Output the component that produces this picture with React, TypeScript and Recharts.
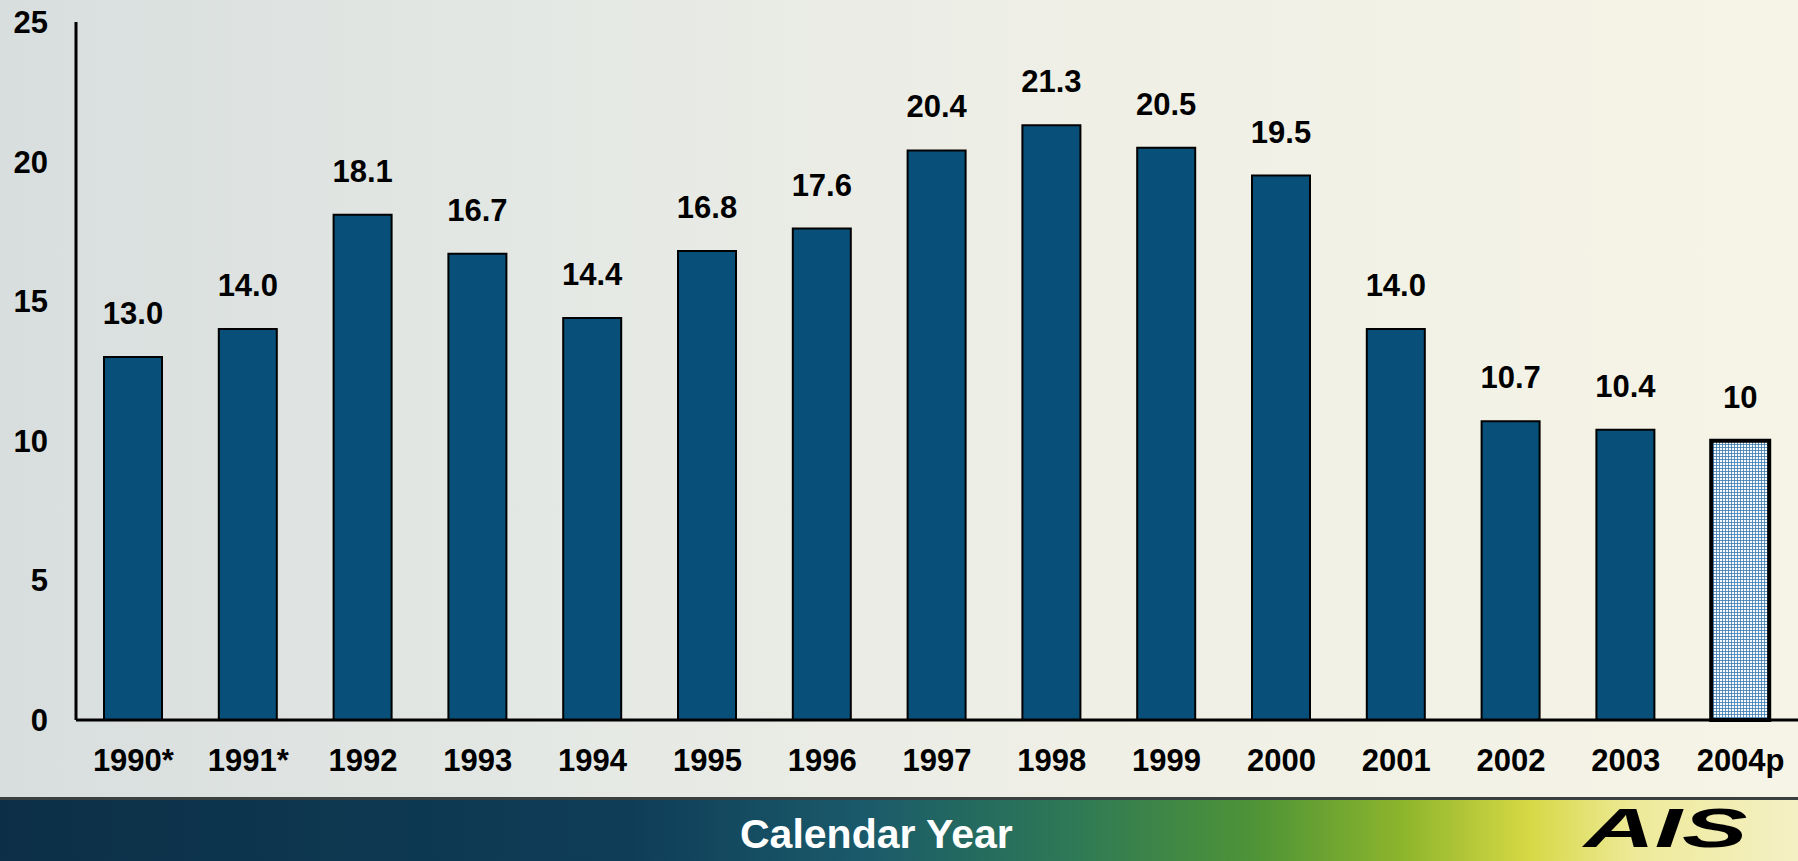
import React from 'react';
import { BarChart, Bar, XAxis, YAxis, Cell, LabelList } from 'recharts';

const YEARS = ['1990*', '1991*', '1992', '1993', '1994', '1995', '1996', '1997', '1998', '1999', '2000', '2001', '2002', '2003', '2004p'];
const VALUES = [13.0, 14.0, 18.1, 16.7, 14.4, 16.8, 17.6, 20.4, 21.3, 20.5, 19.5, 14.0, 10.7, 10.4, 10];
const VALUE_LABELS = ['13.0', '14.0', '18.1', '16.7', '14.4', '16.8', '17.6', '20.4', '21.3', '20.5', '19.5', '14.0', '10.7', '10.4', '10'];
const Y_TICKS = [0, 5, 10, 15, 20, 25];

const BAR_COLOR = '#08507a';
const FONT = '"Liberation Sans", Arial, sans-serif';

const data = YEARS.map((year, i) => ({
  year,
  value: VALUES[i],
  label: VALUE_LABELS[i],
  projected: year.endsWith('p'),
}));

const App: React.FC = () => {
  return (
    <div
      style={{
        position: 'fixed',
        left: 0,
        top: 0,
        width: 1798,
        height: 861,
        overflow: 'hidden',
        fontFamily: FONT,
        background: 'linear-gradient(to right, #d8dede 0%, #e4e8e4 30%, #efefe6 60%, #f6f4e6 100%)',
      }}
    >
      <BarChart
        width={1798}
        height={797}
        data={data}
        margin={{ top: 22, right: 0, left: 0, bottom: 0 }}
        barSize={58}
      >
        <defs>
          <pattern id="grid" width="3" height="3" patternUnits="userSpaceOnUse">
            <rect width="3" height="3" fill="#f7fafc" />
            <path d="M0 0.5 H3 M0.5 0 V3" stroke="#3a78ad" strokeWidth="0.8" />
          </pattern>
        </defs>
        <YAxis
          width={76}
          domain={[0, 25]}
          ticks={Y_TICKS}
          interval={0}
          tickLine={false}
          tickSize={0}
          tickMargin={28}
          axisLine={{ stroke: '#000', strokeWidth: 3 }}
          tick={{ fill: '#000', fontSize: 31, fontWeight: 700, fontFamily: FONT }}
        />
        <XAxis
          dataKey="year"
          height={77}
          interval={0}
          tickLine={false}
          tickSize={0}
          tickMargin={29}
          axisLine={{ stroke: '#000', strokeWidth: 3 }}
          tick={{ fill: '#000', fontSize: 31, fontWeight: 700, fontFamily: FONT }}
        />
        <Bar dataKey="value" isAnimationActive={false}>
          {data.map((d, i) => (
            <Cell
              key={`cell-${i}`}
              fill={d.projected ? 'url(#grid)' : BAR_COLOR}
              stroke="#000"
              strokeWidth={d.projected ? 4 : 2}
            />
          ))}
          <LabelList
            dataKey="label"
            position="top"
            offset={33}
            fill="#000"
            fontSize={31}
            fontWeight={700}
            fontFamily={FONT}
          />
        </Bar>
      </BarChart>

      <div
        style={{
          position: 'absolute',
          left: 0,
          top: 797,
          width: 1798,
          height: 64,
          borderTop: '3px solid #3a3f40',
          boxSizing: 'border-box',
          background:
            'linear-gradient(to right, #0c2f47 0%, #0f3d58 35%, #1a5a6a 48%, #2f7a55 60%, #4f9436 70%, #8db52c 78%, #d6d844 85%, #eeea9a 91%, #f4f0c4 100%)',
          overflow: 'hidden',
        }}
      >
        <div
          style={{
            position: 'absolute',
            left: 740,
            top: 14,
            color: '#fff',
            fontSize: 41,
            fontWeight: 700,
            fontFamily: FONT,
            lineHeight: 1,
            whiteSpace: 'nowrap',
          }}
        >
          Calendar Year
        </div>
        <div
          style={{
            position: 'absolute',
            left: 1584,
            top: 0,
            color: '#000',
            fontSize: 56,
            fontWeight: 700,
            fontStyle: 'italic',
            fontFamily: FONT,
            lineHeight: 1,
            whiteSpace: 'nowrap',
            transform: 'scaleX(1.75)',
            transformOrigin: 'left top',
          }}
        >
          AIS
        </div>
      </div>
    </div>
  );
};

export default App;
